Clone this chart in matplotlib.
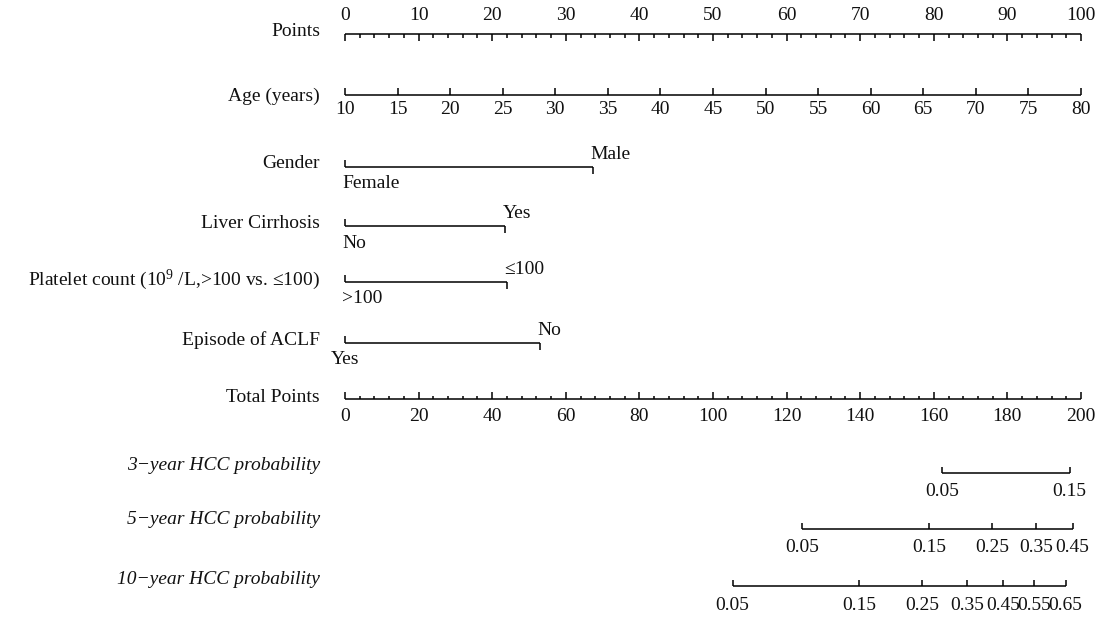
import matplotlib
matplotlib.use("Agg")
import matplotlib.pyplot as plt
import numpy as np

plt.rcParams['font.family'] = ['Liberation Serif', 'DejaVu Serif']
plt.rcParams['mathtext.fontset'] = 'custom'
plt.rcParams['mathtext.rm'] = 'Liberation Serif'
plt.rcParams['mathtext.it'] = 'Liberation Serif:italic'

# ---------------- data ----------------
points_ticks = list(range(0, 101, 10))
points_minor = list(range(0, 101, 2))

age_ticks = list(range(10, 81, 5))
age_min, age_max = 10, 80          # maps to 0..100 points

gender_levels = ['Female', 'Male']
gender_points = [0, 33.7]

cirrhosis_levels = ['No', 'Yes']
cirrhosis_points = [0, 21.8]

platelet_levels = ['>100', '≤100']
platelet_points = [0, 22.0]

aclf_levels = ['Yes', 'No']
aclf_points = [0, 26.5]

total_ticks = list(range(0, 201, 20))
total_minor = list(range(0, 201, 4))
total_max = 200

prob3_labels = ['0.05', '0.15']
prob3_total = [162.2, 196.9]

prob5_labels = ['0.05', '0.15', '0.25', '0.35', '0.45']
prob5_total = [124.1, 158.8, 175.8, 187.9, 197.7]

prob10_labels = ['0.05', '0.15', '0.25', '0.35', '0.45', '0.55', '0.65']
prob10_total = [105.3, 139.8, 156.8, 169.1, 178.8, 187.3, 195.8]

# ---------------- layout ----------------
W, H = 1103, 620
x0px, x1px = 345, 1081
scale = (x1px - x0px) / 100.0
fig = plt.figure(figsize=(W / 100, H / 100), dpi=100)
ax = fig.add_axes([0, 0, 1, 1])
ax.set_xlim(-x0px / scale, (W - x0px) / scale)
ax.set_ylim(H, 0)
ax.axis('off')

FS = 14
LW = 1.1
LABEL_X = (320 - x0px) / scale
col = 'black'
tcol = '#111111'


def row_label(y, text, italic=False):
    ax.text(LABEL_X, y, text, ha='right', va='center', fontsize=FS,
            style='italic' if italic else 'normal', color=tcol)


def hline(xa, xb, y):
    ax.plot([xa, xb], [y, y], color=col, lw=LW, solid_capstyle='butt')


def tick(x, y, length):
    # positive length = downward (pixels)
    ax.plot([x, x], [y, y + length], color=col, lw=LW, solid_capstyle='butt')


# Points
y = 34
row_label(31.7, 'Points')
hline(0, 100, y)
for v in points_minor:
    tick(v, y, 7 if v % 10 == 0 else 4)
for v in points_ticks:
    ax.text(v, 16, str(v), ha='center', va='center', fontsize=FS, color=tcol)

# Age
y = 94.5
row_label(96.7, 'Age (years)')
age_x = [(a - age_min) / (age_max - age_min) * 100 for a in age_ticks]
hline(age_x[0], age_x[-1], y)
for a, xv in zip(age_ticks, age_x):
    tick(xv, y, -7)
    ax.text(xv, 109, str(a), ha='center', va='center', fontsize=FS, color=tcol)


def cat_row(y_line, y_lab, name, levels, pts, low_ha='left'):
    row_label(y_lab, name)
    hline(pts[0], pts[1], y_line)
    tick(pts[0], y_line, -7)
    tick(pts[1], y_line, 7)
    dx = -0.4 if low_ha == 'left' else 0
    ax.text(pts[0] + dx, y_line + 17, levels[0], ha=low_ha, va='center', fontsize=FS, color=tcol)
    ax.text(pts[1] - 0.4, y_line - 12.5, levels[1], ha='left', va='center', fontsize=FS, color=tcol)


cat_row(166.7, 164, 'Gender', gender_levels, gender_points)
cat_row(226, 224, 'Liver Cirrhosis', cirrhosis_levels, cirrhosis_points)
cat_row(281.7, 280, 'Platelet count (10$^{9}$ /L,>100 vs. ≤100)', platelet_levels, platelet_points)
cat_row(342.7, 340, 'Episode of ACLF', aclf_levels, aclf_points, low_ha='center')

# Total points
y = 399.3
row_label(398, 'Total Points')
tf = 100.0 / total_max
hline(0, 100, y)
for v in total_minor:
    tick(v * tf, y, -7 if v % 20 == 0 else -3.7)
for v in total_ticks:
    ax.text(v * tf, 416.7, str(v), ha='center', va='center', fontsize=FS, color=tcol)


def prob_row(y_line, y_lab, y_tl, name, labels, tot):
    row_label(y_lab, name, italic=True)
    xs = [t * tf for t in tot]
    hline(xs[0], xs[-1], y_line)
    for lab, xv in zip(labels, xs):
        tick(xv, y_line, -6)
        ax.text(xv, y_tl, lab, ha='center', va='center', fontsize=FS, color=tcol)


prob_row(472.7, 466, 491.7, '3−year HCC probability', prob3_labels, prob3_total)
prob_row(529, 520, 548, '5−year HCC probability', prob5_labels, prob5_total)
prob_row(585.7, 580, 605, '10−year HCC probability', prob10_labels, prob10_total)

fig.savefig('out.png', dpi=100)
